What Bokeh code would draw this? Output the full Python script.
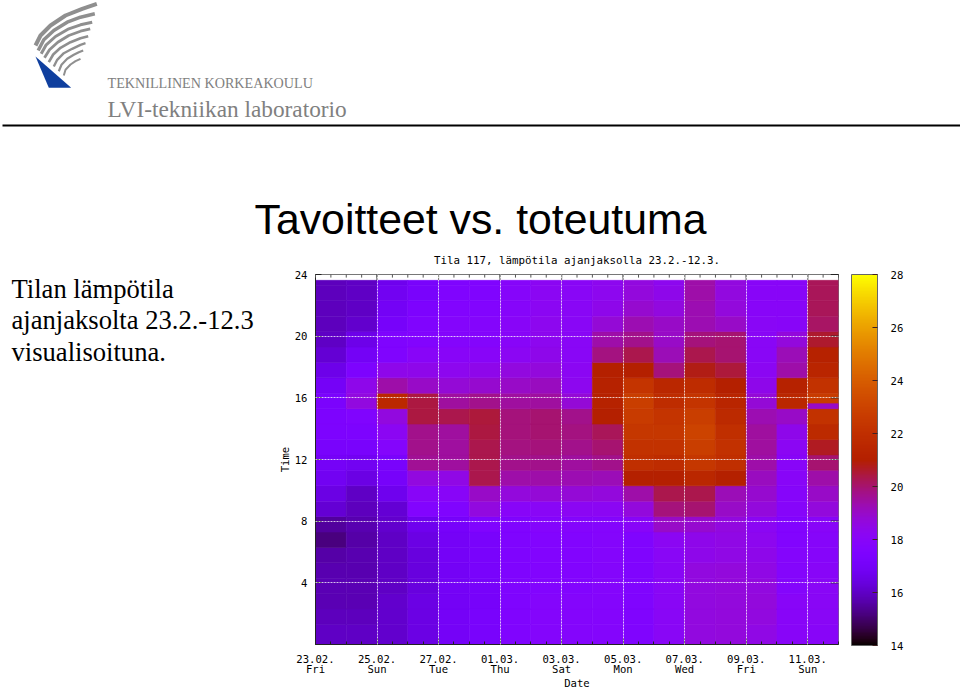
from math import sqrt, sin, pi
from bokeh.plotting import figure, ColumnDataSource
from bokeh.models import LinearColorMapper, ColorBar, FixedTicker, Range1d, Title
from bokeh.core.properties import value
from bokeh.embed import file_html
from bokeh.resources import INLINE

# ---- data: temperature per day column, from the first hour row to the last
d_2302 = [16.0,15.9,15.8,15.8,15.7,15.6,15.2,15.5,16.2,16.5,16.8,17.0,17.2,17.4,17.4,17.3,17.0,16.6,16.2,16.0,15.9,15.9,15.9,15.9]
d_2402 = [16.0,15.9,15.8,15.8,15.7,15.7,15.6,15.7,15.9,16.0,16.5,16.8,17.2,17.4,17.6,18.6,18.4,17.4,16.9,16.6,16.1,16.0,16.0,16.0]
d_2502 = [16.1,16.1,16.1,16.0,16.0,16.0,16.0,16.1,16.2,16.7,17.1,17.2,17.8,18.2,18.6,21.6,19.4,18.4,17.6,17.5,17.1,16.9,16.8,16.7]
d_2602 = [16.5,16.5,16.5,16.4,16.4,16.4,16.5,16.7,17.7,18.0,18.6,19.6,19.7,19.7,20.4,20.4,19.0,18.4,18.0,17.7,17.6,17.4,17.2,17.2]
d_2702 = [17.0,17.0,16.9,16.9,16.9,17.0,17.0,17.1,17.6,18.0,18.5,19.5,19.5,19.5,20.3,19.5,18.8,18.3,18.0,17.8,17.8,17.7,17.6,17.5]
d_2802 = [17.2,17.2,17.1,17.1,17.2,17.2,17.2,17.6,18.6,19.0,20.3,20.3,20.3,20.4,20.5,19.7,18.9,18.4,18.0,17.8,17.8,17.7,17.6,17.6]
d_0103 = [17.6,17.6,17.5,17.5,17.5,17.5,17.5,17.6,18.0,18.7,19.4,19.7,19.8,19.9,19.9,19.5,19.0,18.6,18.2,18.0,18.0,17.9,17.9,17.9]
d_0203 = [17.8,17.8,17.8,17.7,17.7,17.7,17.7,17.8,18.1,18.8,19.4,19.7,19.9,20.0,20.0,19.5,19.1,18.7,18.4,18.3,18.3,18.2,18.2,18.2]
d_0303 = [17.8,17.8,17.8,17.7,17.7,17.7,17.7,17.8,18.2,18.8,19.3,19.5,19.7,19.8,19.7,18.8,18.3,18.2,18.1,18.1,18.1,18.1,18.1,18.1]
d_0403 = [17.8,17.8,17.8,17.8,17.8,17.8,17.8,17.8,18.2,18.7,19.2,19.7,20.0,20.2,21.0,21.2,21.2,21.0,19.8,19.4,18.8,18.4,18.3,18.3]
d_0503 = [17.6,17.6,17.6,17.6,17.6,17.6,17.6,18.0,18.7,19.4,21.0,22.0,22.2,22.4,22.6,22.8,22.3,21.0,20.3,19.7,19.3,18.9,18.7,18.6]
d_0603 = [18.1,18.1,18.1,18.1,18.1,18.1,18.2,19.0,19.9,20.3,21.0,21.8,22.2,22.4,22.3,21.8,21.5,19.9,19.2,19.0,19.0,18.6,18.4,18.3]
d_0703 = [18.6,18.6,18.6,18.6,18.6,18.4,18.4,18.9,20.0,20.3,21.5,22.4,22.8,23.0,22.8,22.3,21.8,20.8,20.3,19.9,19.3,19.3,19.4,19.4]
d_0803 = [18.7,18.7,18.7,18.7,18.7,18.5,18.5,18.6,19.0,19.2,21.0,22.0,22.1,22.0,21.7,21.4,21.0,20.5,20.0,20.0,19.0,18.7,18.6,18.6]
d_0903 = [18.5,18.6,18.7,18.6,18.5,18.4,18.3,18.2,18.7,18.9,19.1,19.4,19.5,19.5,19.3,18.8,18.4,18.2,18.1,18.1,18.1,18.0,18.0,18.0]
d_1003 = [18.0,18.0,18.0,17.8,17.8,17.8,17.7,17.7,17.9,17.9,18.0,18.0,18.2,18.4,19.0,21.5,21.2,19.4,19.2,18.7,18.0,18.0,18.0,18.0]
d_1103 = [18.0,18.1,18.1,18.1,18.0,17.9,17.9,18.0,18.7,19.0,19.4,20.0,20.7,21.7,22.2,22.6,22.2,21.4,21.2,20.6,20.1,20.2,20.2,20.2]
columns = [d_2302,d_2402,d_2502,d_2602,d_2702,d_2802,d_0103,d_0203,d_0303,d_0403,d_0503,d_0603,d_0703,d_0803,d_0903,d_1003,d_1103]

# the short cold reading on the last day
dip_temp = 19.0

hours = [4, 8, 12, 16, 20, 24]
date_ticks = [0, 2, 4, 6, 8, 10, 12, 14, 16]
date_labels = ["23.02.", "25.02.", "27.02.", "01.03.", "03.03.", "05.03.", "07.03.", "09.03.", "11.03."]
weekdays = ["Fri", "Sun", "Tue", "Thu", "Sat", "Mon", "Wed", "Fri", "Sun"]
scale_ticks = [14, 16, 18, 20, 22, 24, 26, 28]

# ---- gnuplot's default pm3d palette (rgbformulae 7,5,15)
def pal(t):
    r = sqrt(t); g = t ** 3; b = max(0.0, sin(2 * pi * t))
    return "#%02x%02x%02x" % (int(r * 255), int(g * 255), int(b * 255))
palette = [pal(i / 255) for i in range(256)]
mapper = LinearColorMapper(palette=palette, low=14, high=28)

left, right, bottom, top, temp = [], [], [], [], []
for d, col in enumerate(columns):
    for k, t in enumerate(col):
        left.append(d); right.append(d + 1)
        bottom.append(0 if k == 0 else k + 0.3)
        top.append(k + 1.3 if k < 23 else 23.62)
        temp.append(t)
left.append(16); right.append(17); bottom.append(15.3); top.append(15.62); temp.append(dip_temp)
src = ColumnDataSource(dict(left=left, right=right, bottom=bottom, top=top, temp=temp))

MONO = "DejaVu Sans Mono"
p = figure(width=960, height=688, output_backend="svg", toolbar_location=None,
           x_range=Range1d(0, 17), y_range=Range1d(0, 24),
           frame_width=523, frame_height=370,
           min_border_left=315, min_border_right=122, min_border_top=274, min_border_bottom=44,
           x_axis_label="Date", y_axis_label="Time")
p.extra_x_ranges["page"] = Range1d(315, 838)
p.extra_y_ranges["page"] = Range1d(644, 274)
p.outline_line_color = "#777777"
p.background_fill_color = "white"

fill = {"field": "temp", "transform": mapper}
p.quad(left="left", right="right", bottom="bottom", top="top", source=src,
       fill_color=fill, line_color=fill, line_width=0.6, level="image")

day_minor = [i / 2 for i in range(0, 35)]
xt = FixedTicker(ticks=date_ticks, minor_ticks=day_minor)
yt = FixedTicker(ticks=hours)


def style_axis(ax):
    ax.axis_line_color = "#222222"
    ax.major_tick_in = 6; ax.major_tick_out = 0
    ax.minor_tick_in = 3; ax.minor_tick_out = 0
    ax.major_tick_line_color = "#222222"
    ax.minor_tick_line_color = "#222222"
    ax.major_label_text_font = MONO
    ax.major_label_text_font_size = "10.6px"
    ax.major_label_text_color = "black"
    ax.axis_label_text_font = MONO
    ax.axis_label_text_font_size = "10.6px"
    ax.axis_label_text_font_style = "normal"
    ax.axis_label_text_color = "black"


xa = p.xaxis[0]; ya = p.yaxis[0]
xa.ticker = xt; ya.ticker = yt
style_axis(xa); style_axis(ya)
xa.major_label_overrides = dict(zip(date_ticks, date_labels))
xa.major_label_standoff = 10
xa.axis_label_standoff = 11
ya.major_label_standoff = 8
ya.axis_label_standoff = 1
ya.minor_tick_line_color = None

# ticks mirrored on the top and right edges of the frame
p.segment(x0=date_ticks, x1=date_ticks, y0=[24] * len(date_ticks), y1=[23.6] * len(date_ticks),
          line_color="#222222", level="annotation")
p.segment(x0=day_minor, x1=day_minor, y0=[24] * len(day_minor), y1=[23.8] * len(day_minor),
          line_color="#555555", level="annotation")
p.segment(x0=[17] * len(hours), x1=[16.75] * len(hours), y0=hours, y1=hours,
          line_color="#222222", level="annotation")

for g in (p.xgrid[0], p.ygrid[0]):
    g.grid_line_color = "white"
    g.grid_line_alpha = 0.75
    g.grid_line_dash = "2 1"
    g.grid_line_width = 1
    g.level = "overlay"
p.xgrid[0].ticker = xt
p.ygrid[0].ticker = yt
p.ygrid[0].bounds = (0.25, 16.75)
p.xgrid[0].bounds = (0, 23.62)

p.add_layout(Title(text="Tila 117, lämpötila ajanjaksolla 23.2.-12.3.", text_font=MONO,
                   text_font_size="10.8px", text_font_style="normal", text_color="black",
                   align="center", standoff=15), "above")

cb = ColorBar(color_mapper=mapper, ticker=FixedTicker(ticks=scale_ticks), width=26, height=371,
              location=(536, -1), padding=0, margin=0, label_standoff=13,
              major_label_text_font=MONO, major_label_text_font_size="10.6px",
              major_label_text_color="black", major_tick_line_color="#402020",
              major_tick_in=5, minor_tick_line_color=None,
              bar_line_color="#666666", border_line_color=None, background_fill_color=None)
p.add_layout(cb)

p.text(x=date_ticks, y=[668] * len(date_ticks), text=weekdays, y_range_name="page", level="annotation",
       text_font=value(MONO), text_font_size="10.6px", text_align="center",
       text_baseline="middle", text_color="black")

# ---- page furniture, placed in page pixels through the "page" ranges
P = dict(x_range_name="page", y_range_name="page", level="annotation")


def text(x, y, s, font, size, color="black"):
    p.text(x=[x], y=[y], text=[s], text_font=value(font), text_font_size=size, text_color=color,
           text_baseline="middle", **P)


text(254, 218, "Tavoitteet vs. toteutuma", "Liberation Sans", "42.8px")
text(11, 288, "Tilan lämpötila", "Liberation Serif", "26.6px")
text(11, 319, "ajanjaksolta 23.2.-12.3", "Liberation Serif", "26.6px")
text(11, 351, "visualisoituna.", "Liberation Serif", "26.6px")
text(107, 82, "TEKNILLINEN KORKEAKOULU", "Liberation Serif", "14.15px", "#808080")
text(107, 108, "LVI-tekniikan laboratorio", "Liberation Serif", "23.3px", "#808080")

p.segment(x0=[2], y0=[125], x1=[960], y1=[125], line_color="black", line_width=2, **P)

stripes_x = [[35, 40, 50, 65, 81.7, 96.3], [37.7, 43.3, 53.3, 66.7, 80, 94.3],
             [40.7, 45.7, 55, 68.3, 80, 91.7], [44, 49, 57.3, 68.3, 80, 89.7],
             [48.3, 52.7, 60, 70, 80, 87.7], [53.3, 56.7, 63.3, 71.7, 80, 85],
             [58.3, 61, 66.7, 73.3, 78.3, 82.7], [63.3, 65, 70, 75, 80]]
stripes_y = [[45, 35, 25, 15, 8.3, 3.3], [50, 39.3, 30, 21.7, 16.7, 13.3],
             [53.3, 44.3, 36, 28.3, 24.3, 21.7], [57.3, 49.3, 41.7, 35, 30.7, 28.3],
             [61.7, 54, 47.3, 41.7, 37.7, 35.7], [66, 59.3, 52.7, 48.3, 44.3, 42.7],
             [70.7, 64.3, 58.3, 54.3, 51.7, 50], [75, 69.3, 64, 60.7, 58.3]]
stripes_w = [4, 3.5, 3, 2.8, 2.6, 2.4, 2.2, 2]
p.multi_line(xs=stripes_x, ys=stripes_y, line_color="#8f8f8f", line_width=stripes_w,
             line_join="round", **P)
p.patch(x=[35, 70.7, 48.3], y=[56, 87.3, 87.3], fill_color="#0f3f9e", line_color=None, **P)

open("out.html", "w").write(file_html(p, INLINE))
